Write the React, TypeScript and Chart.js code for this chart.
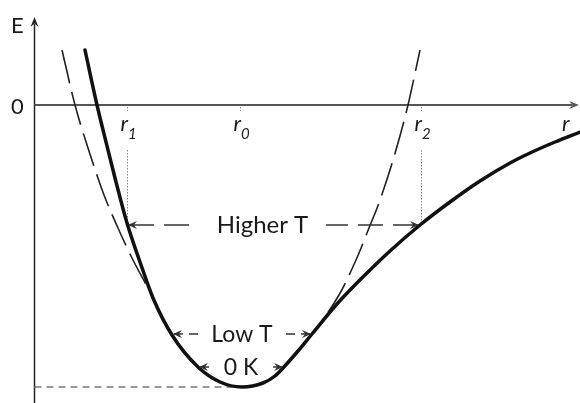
import React, { useEffect, useRef } from "react";
import { Chart, registerables } from "chart.js";

Chart.register(...registerables);

// Interatomic potential energy E(r) (arbitrary units; E = 0 at the r-axis)
const potentialR = [85, 97, 106, 115, 127, 140, 153, 172, 198, 220, 242, 263, 275, 283, 298, 312, 337, 365, 390, 420, 450, 480, 510, 530, 555, 580];
const potentialE = [55, 0, -37, -73, -118, -157, -193, -230, -262, -277, -282, -278, -271, -263, -246, -229, -199, -170, -146, -120, -97, -76, -58, -48, -37, -27];

// Harmonic (parabolic) approximation, dashed
const harmonicR = [62, 75, 88, 104, 118, 132, 150, 172, 198, 220, 242, 263, 283, 298, 312, 339, 356, 369, 380, 396, 408, 420];
const harmonicE = [55, 0, -43, -90, -123, -153, -187, -230, -262, -277, -282, -278, -263, -246, -229, -190, -155, -123, -95, -45, 0, 55];

// Vibration amplitude at each temperature
const levelLabels = ["Higher T", "Low T", "0 K"];
const levelE = [-120, -229, -262];
const levelLeft = [127, 172, 198];
const levelRight = [420, 312, 284];
const levelDash = [[25, 10], [9, 6], [9, 6]];

// Marked positions on the r-axis
const rTickSubs = ["1", "0", "2"];
const rTickPos = [127, 240, 421];
const rTickDrop = [true, false, true];
const minimumE = -282;
const minimumR = 242;

const X_MIN = 0, X_MAX = 580, Y_MIN = -298, Y_MAX = 105;
const FONT = "Lato, 'Open Sans', sans-serif";
const TEXT = "#1a1a1a";

function arrowHead(ctx: CanvasRenderingContext2D, x: number, y: number, dx: number, dy: number, len: number, half: number) {
  const n = Math.hypot(dx, dy);
  const ux = dx / n, uy = dy / n;
  const px = -uy, py = ux;
  ctx.beginPath();
  ctx.moveTo(x, y);
  ctx.lineTo(x - ux * len + px * half, y - uy * len + py * half);
  ctx.lineTo(x - ux * len * 0.65, y - uy * len * 0.65);
  ctx.lineTo(x - ux * len - px * half, y - uy * len - py * half);
  ctx.closePath();
  ctx.fill();
}

const diagramPlugin = {
  id: "diagram",
  beforeDatasetsDraw(chart: any) {
    const ctx: CanvasRenderingContext2D = chart.ctx;
    const xs = chart.scales.x, ys = chart.scales.y;
    const ax = 34.5;
    const y0 = ys.getPixelForValue(0);
    ctx.save();
    // vertical E axis
    ctx.strokeStyle = "#222";
    ctx.fillStyle = "#222";
    ctx.lineWidth = 1.5;
    ctx.beginPath();
    ctx.moveTo(ax, chart.height);
    ctx.lineTo(ax, 24);
    ctx.stroke();
    arrowHead(ctx, ax, 17, 0, -1, 10, 4);
    // horizontal r axis
    ctx.strokeStyle = "#555";
    ctx.fillStyle = "#555";
    ctx.lineWidth = 2;
    ctx.beginPath();
    ctx.moveTo(ax, y0);
    ctx.lineTo(572, y0);
    ctx.stroke();
    arrowHead(ctx, 579, y0, 1, 0, 10, 4);
    // minimum energy dashed line
    const ym = ys.getPixelForValue(minimumE);
    ctx.strokeStyle = "#777";
    ctx.lineWidth = 1.5;
    ctx.setLineDash([7, 5]);
    ctx.beginPath();
    ctx.moveTo(ax, ym);
    ctx.lineTo(xs.getPixelForValue(minimumR), ym);
    ctx.stroke();
    // drop lines from r1, r2
    ctx.strokeStyle = "#888";
    ctx.lineWidth = 1;
    ctx.setLineDash([1.5, 1.5]);
    rTickPos.forEach((r, i) => {
      const x = Math.round(xs.getPixelForValue(r)) + 0.5;
      ctx.beginPath();
      ctx.moveTo(x, y0 + 2);
      ctx.lineTo(x, y0 + 6);
      ctx.stroke();
      if (rTickDrop[i]) {
        ctx.beginPath();
        ctx.moveTo(x, y0 + 45);
        ctx.lineTo(x, ys.getPixelForValue(levelE[0]));
        ctx.stroke();
      }
    });
    ctx.restore();
  },
  afterDatasetsDraw(chart: any) {
    const ctx: CanvasRenderingContext2D = chart.ctx;
    const xs = chart.scales.x, ys = chart.scales.y;
    const y0 = ys.getPixelForValue(0);
    ctx.save();
    ctx.fillStyle = TEXT;
    ctx.textBaseline = "alphabetic";
    // axis labels
    ctx.font = `22px ${FONT}`;
    ctx.textAlign = "left";
    ctx.fillText("E", 11, 33);
    ctx.fillText("0", 11, 114);
    // r labels
    rTickPos.forEach((r, i) => {
      const x = xs.getPixelForValue(r);
      ctx.font = `italic 22px ${FONT}`;
      ctx.textAlign = "right";
      ctx.fillText("r", x + 1, y0 + 26);
      ctx.font = `italic 15px ${FONT}`;
      ctx.textAlign = "left";
      ctx.fillText(rTickSubs[i], x + 1, y0 + 34);
    });
    ctx.font = `italic 22px ${FONT}`;
    ctx.textAlign = "left";
    ctx.fillText("r", 562, y0 + 26);

    // temperature level arrows
    levelLabels.forEach((label, i) => {
      const y = ys.getPixelForValue(levelE[i]);
      const xl = xs.getPixelForValue(levelLeft[i]);
      const xr = xs.getPixelForValue(levelRight[i]);
      const size = i === 0 ? 24 : 23;
      ctx.font = `${size}px ${FONT}`;
      const w = ctx.measureText(label).width;
      const cx = (xl + xr) / 2 + (i === 0 ? -11 : 0);
      const gap = i === 0 ? 22 : 12;
      ctx.fillStyle = TEXT;
      ctx.textAlign = "center";
      ctx.fillText(label, cx, y + 8);
      ctx.strokeStyle = "#333";
      ctx.fillStyle = "#333";
      ctx.lineWidth = 1.5;
      ctx.setLineDash(levelDash[i]);
      ctx.beginPath();
      ctx.moveTo(xl + 2, y);
      ctx.lineTo(cx - w / 2 - gap, y);
      ctx.stroke();
      ctx.beginPath();
      ctx.moveTo(xr - 2, y);
      ctx.lineTo(cx + w / 2 + gap * 0.8, y);
      ctx.stroke();
      ctx.setLineDash([]);
      arrowHead(ctx, xl + 1, y, -1, 0, 9, 4);
      arrowHead(ctx, xr - 1, y, 1, 0, 9, 4);
    });
    ctx.restore();
  },
};

export default function App() {
  const ref = useRef<HTMLCanvasElement | null>(null);
  useEffect(() => {
    if (!ref.current) return;
    const chart = new Chart(ref.current, {
      type: "line",
      data: {
        datasets: [
          {
            label: "Potential energy",
            data: potentialR.map((r, i) => ({ x: r, y: potentialE[i] })),
            borderColor: "#111",
            borderWidth: 3.5,
            pointRadius: 0,
            cubicInterpolationMode: "monotone",
            borderCapStyle: "round",
            fill: false,
            order: 0,
          },
          {
            label: "Harmonic approximation",
            data: harmonicR.map((r, i) => ({ x: r, y: harmonicE[i] })),
            borderColor: "#222",
            borderWidth: 1.6,
            borderDash: [34, 9],
            pointRadius: 0,
            cubicInterpolationMode: "monotone",
            fill: false,
            order: 1,
          },
        ],
      },
      options: {
        animation: false,
        responsive: false,
        layout: { padding: 0 },
        plugins: { legend: { display: false }, tooltip: { enabled: false } },
        scales: {
          x: { type: "linear", min: X_MIN, max: X_MAX, display: false },
          y: { type: "linear", min: Y_MIN, max: Y_MAX, display: false },
        },
      },
      plugins: [diagramPlugin],
    } as any);
    return () => chart.destroy();
  }, []);
  return (
    <div style={{ position: "absolute", left: 0, top: 0, width: 580, height: 403, background: "#fff" }}>
      <canvas ref={ref} width={580} height={403} />
    </div>
  );
}
